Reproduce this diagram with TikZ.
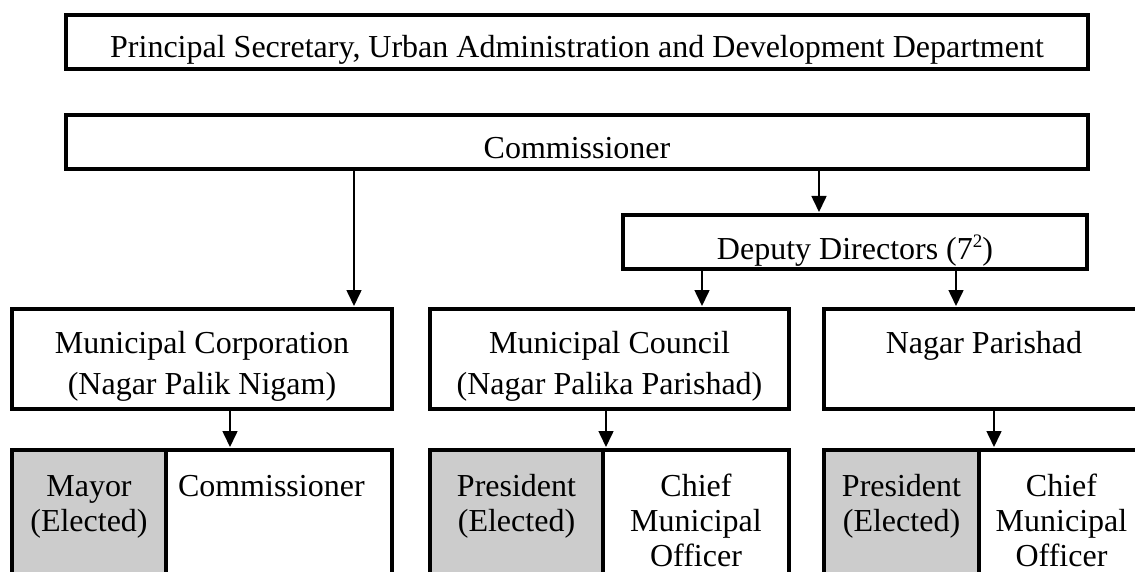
\documentclass[tikz,border=0pt]{standalone}
\usepackage{fontspec}
\setmainfont{Liberation Serif}
\usetikzlibrary{arrows.meta}
\definecolor{cellgray}{RGB}{204,204,204}
\begin{document}
\begin{tikzpicture}[x=1pt,y=-1pt,
  box/.style={draw=black, line width=4pt, inner sep=0pt, outer sep=0pt, fill=white},
  graycell/.style={box, fill=cellgray},
  lbl/.style={font=\fontsize{32}{35}\selectfont, inner sep=0pt, outer sep=0pt},
  arr/.style={line width=1.6pt, shorten >=3pt, -{Triangle[length=16pt,width=15pt]}}]
\useasboundingbox (0,0) rectangle (1135,572);
\clip (0,0) rectangle (1135,572);

% boxes
\node[box, minimum width=1022pt, minimum height=54pt] (top) at (577,42) {};
\node[box, minimum width=1022pt, minimum height=54pt] (comm) at (577,142) {};
\node[box, minimum width=464pt, minimum height=54pt] (dd) at (855,242) {};
\node[box, minimum width=380pt, minimum height=100pt] (mc) at (202,359) {};
\node[box, minimum width=359pt, minimum height=100pt] (mcl) at (609.5,359) {};
\node[box, minimum width=320pt, minimum height=100pt] (np) at (984,359) {};

% bottom cells
\node[graycell, minimum width=154pt, minimum height=170pt] (mayor) at (89,535) {};
\node[box, minimum width=226pt, minimum height=170pt] (mcomm) at (279,535) {};
\node[graycell, minimum width=173pt, minimum height=170pt] (pres1) at (516.5,535) {};
\node[box, minimum width=186pt, minimum height=170pt] (chief1) at (696,535) {};
\node[graycell, minimum width=155pt, minimum height=170pt] (pres2) at (901.5,535) {};
\node[box, minimum width=165pt, minimum height=170pt] (chief2) at (1061.5,535) {};

% texts
\node[lbl, anchor=base] (topT) at (577,58) {Principal Secretary, Urban Administration and Development Department};
\node[lbl, anchor=base] (commT) at (577,159) {Commissioner};
\node[lbl, anchor=base] (ddT) at (855,259) {Deputy Directors (7\raisebox{12pt}{\fontsize{19}{20}\selectfont 2})};
\node[lbl, anchor=base] (mcT1) at (202,353) {Municipal Corporation};
\node[lbl, anchor=base] (mcT2) at (202,394) {(Nagar Palik Nigam)};
\node[lbl, anchor=base] (mclT1) at (609.5,353) {Municipal Council};
\node[lbl, anchor=base] (mclT2) at (609.5,394) {(Nagar Palika Parishad)};
\node[lbl, anchor=base] (npT) at (984,353) {Nagar Parishad};

\node[lbl, anchor=base] (mayorT1) at (89,496) {Mayor};
\node[lbl, anchor=base] (mayorT2) at (89,531) {(Elected)};
\node[lbl, anchor=base west] (mcommT) at (178,496) {Commissioner};
\node[lbl, anchor=base] (pres1T1) at (516.5,496) {President};
\node[lbl, anchor=base] (pres1T2) at (516.5,531) {(Elected)};
\node[lbl, anchor=base] (chief1T1) at (696,496) {Chief};
\node[lbl, anchor=base] (chief1T2) at (696,531) {Municipal};
\node[lbl, anchor=base] (chief1T3) at (696,566) {Officer};
\node[lbl, anchor=base] (pres2T1) at (901.5,496) {President};
\node[lbl, anchor=base] (pres2T2) at (901.5,531) {(Elected)};
\node[lbl, anchor=base] (chief2T1) at (1061.5,496) {Chief};
\node[lbl, anchor=base] (chief2T2) at (1061.5,531) {Municipal};
\node[lbl, anchor=base] (chief2T3) at (1061.5,566) {Officer};

% connector columns
\coordinate (xa) at (354,0);
\coordinate (xb) at (819,0);
\coordinate (xc) at (702,0);
\coordinate (xd) at (956,0);
\coordinate (xe) at (230,0);
\coordinate (xf) at (606,0);
\coordinate (xg) at (994,0);

\draw[arr] (xa |- comm.south) -- (xa |- mc.north);
\draw[arr] (xb |- comm.south) -- (xb |- dd.north);
\draw[arr] (xc |- dd.south) -- (xc |- mcl.north);
\draw[arr] (xd |- dd.south) -- (xd |- np.north);
\draw[arr] (xe |- mc.south) -- (xe |- mcomm.north);
\draw[arr] (xf |- mcl.south) -- (xf |- chief1.north);
\draw[arr] (xg |- np.south) -- (xg |- chief2.north);
\end{tikzpicture}
\end{document}
